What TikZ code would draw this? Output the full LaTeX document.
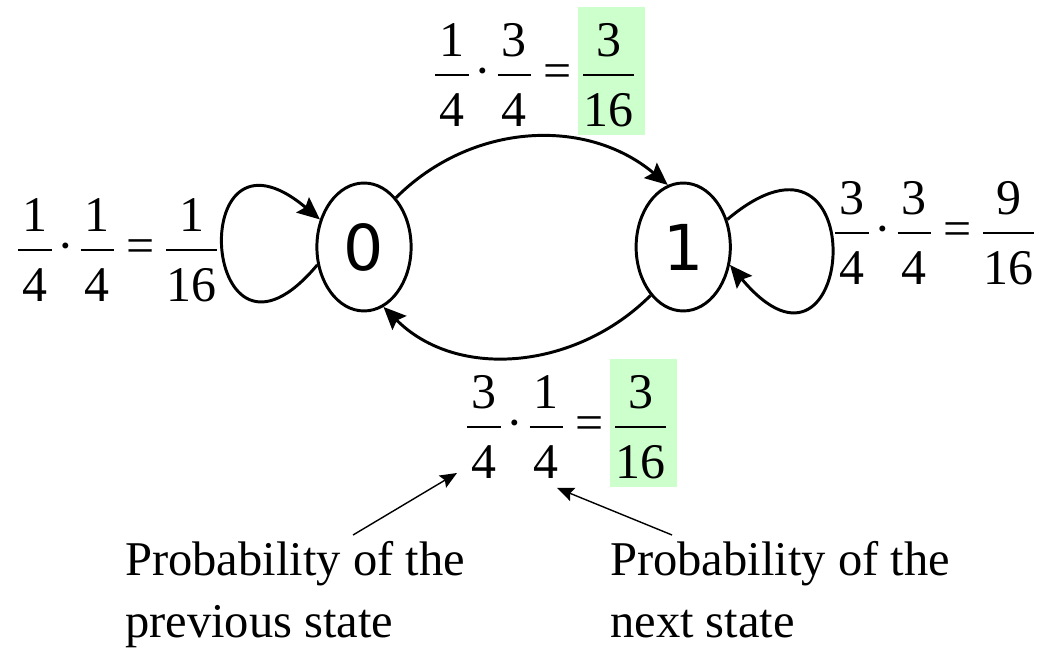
\documentclass[tikz,border=0pt]{standalone}
\usepackage{fontspec}
\setmainfont{Liberation Serif}
\newfontfamily\statefont{DejaVu Sans}
\usetikzlibrary{arrows.meta,positioning,shapes.geometric}
\definecolor{hlgreen}{RGB}{204,255,204}
\newlength\fw
\newlength\fwb
% fraction with its rule 8.9pt above the baseline
\newcommand\fr[3][3pt]{%
  \settowidth\fw{#2}\settowidth\fwb{#3}%
  \ifdim\fwb>\fw \setlength\fw{\fwb}\fi
  \addtolength\fw{#1}\addtolength\fw{#1}%
  \raisebox{21.7pt}{\makebox[\fw]{#2}}\kern-\fw
  \raisebox{8.19pt}{\rule{\fw}{1.42pt}}\kern-\fw
  \raisebox{-27.9pt}{\makebox[\fw]{#3}}}
\newcommand\hlfr[2]{\kern-3.56pt\textcolor{hlgreen}{\rule[-33.8pt]{47.9pt}{91pt}}\kern-44.34pt\fr[0.5pt]{#1}{#2}\kern7.84pt}
\newcommand\tdot{\kern4.4pt·\kern4.4pt}
\newcommand\teq{\kern8.5pt=\kern8.5pt}

\begin{document}
\begin{tikzpicture}[x=0.025cm,y=0.025cm,>={Stealth[length=16pt,width=14pt,inset=2.5pt]},
  state/.style={draw,ellipse,line width=2.1pt,minimum width=67pt,minimum height=91pt,inner sep=0pt,
    font=\statefont\fontsize{45}{54}\selectfont},
  trans/.style={->,line width=2.1pt},
  lbl/.style={inner sep=0pt,font=\fontsize{35.5}{44}\selectfont},
  note/.style={inner sep=0pt,align=left,font=\fontsize{34.5}{44}\selectfont},
  pointer/.style={-{Stealth[length=12pt,width=10pt,inset=2pt]},line width=1pt}]
\useasboundingbox (0,0) rectangle (1042,650);

% states
\node[state] (zero) at (364,403) {0};
\node[state,right=5.55cm of zero] (one) {1};

% transitions
\draw[trans] (zero.57) to[out=45,in=140] (one.104);
\draw[trans] (one.236) to[out=225,in=315] (zero.288);
\draw[trans] (zero.201) .. controls +(230:180) and +(140:180) .. (zero.148);
\draw[trans] (one.32) .. controls +(40:195) and +(-50:195) .. (one.-21);

% probabilities
\node[lbl,anchor=base west] (selfzero) at (18,387.5) {\fr{1}{4}\tdot\fr{1}{4}\teq\fr[0.5pt]{1}{16}};
\node[lbl,anchor=base west] (selfone) at (835,404.5) {\fr{3}{4}\tdot\fr{3}{4}\teq\fr[0.5pt]{9}{16}};
\node[lbl,anchor=base west] (upper) at (435,562.5) {\fr{1}{4}\tdot\fr{3}{4}\teq\hlfr{3}{16}};
\node[lbl,anchor=base west] (lower) at (467,210.5) {\fr{3}{4}\tdot\fr{1}{4}\teq\hlfr{3}{16}};

% notes
\node[note,anchor=north west] (prevnote) at (125,109) {Probability of the\\previous state};
\node[note,anchor=north west] (nextnote) at (610,109) {Probability of the\\next state};
\coordinate (prevtip) at (457,177);
\coordinate (nexttip) at (557,162);
\draw[pointer] ([xshift=1.45cm,yshift=0.15cm]prevnote.north) -- (prevtip);
\draw[pointer] ([xshift=-2.7cm,yshift=0.15cm]nextnote.north) -- (nexttip);
\end{tikzpicture}
\end{document}
